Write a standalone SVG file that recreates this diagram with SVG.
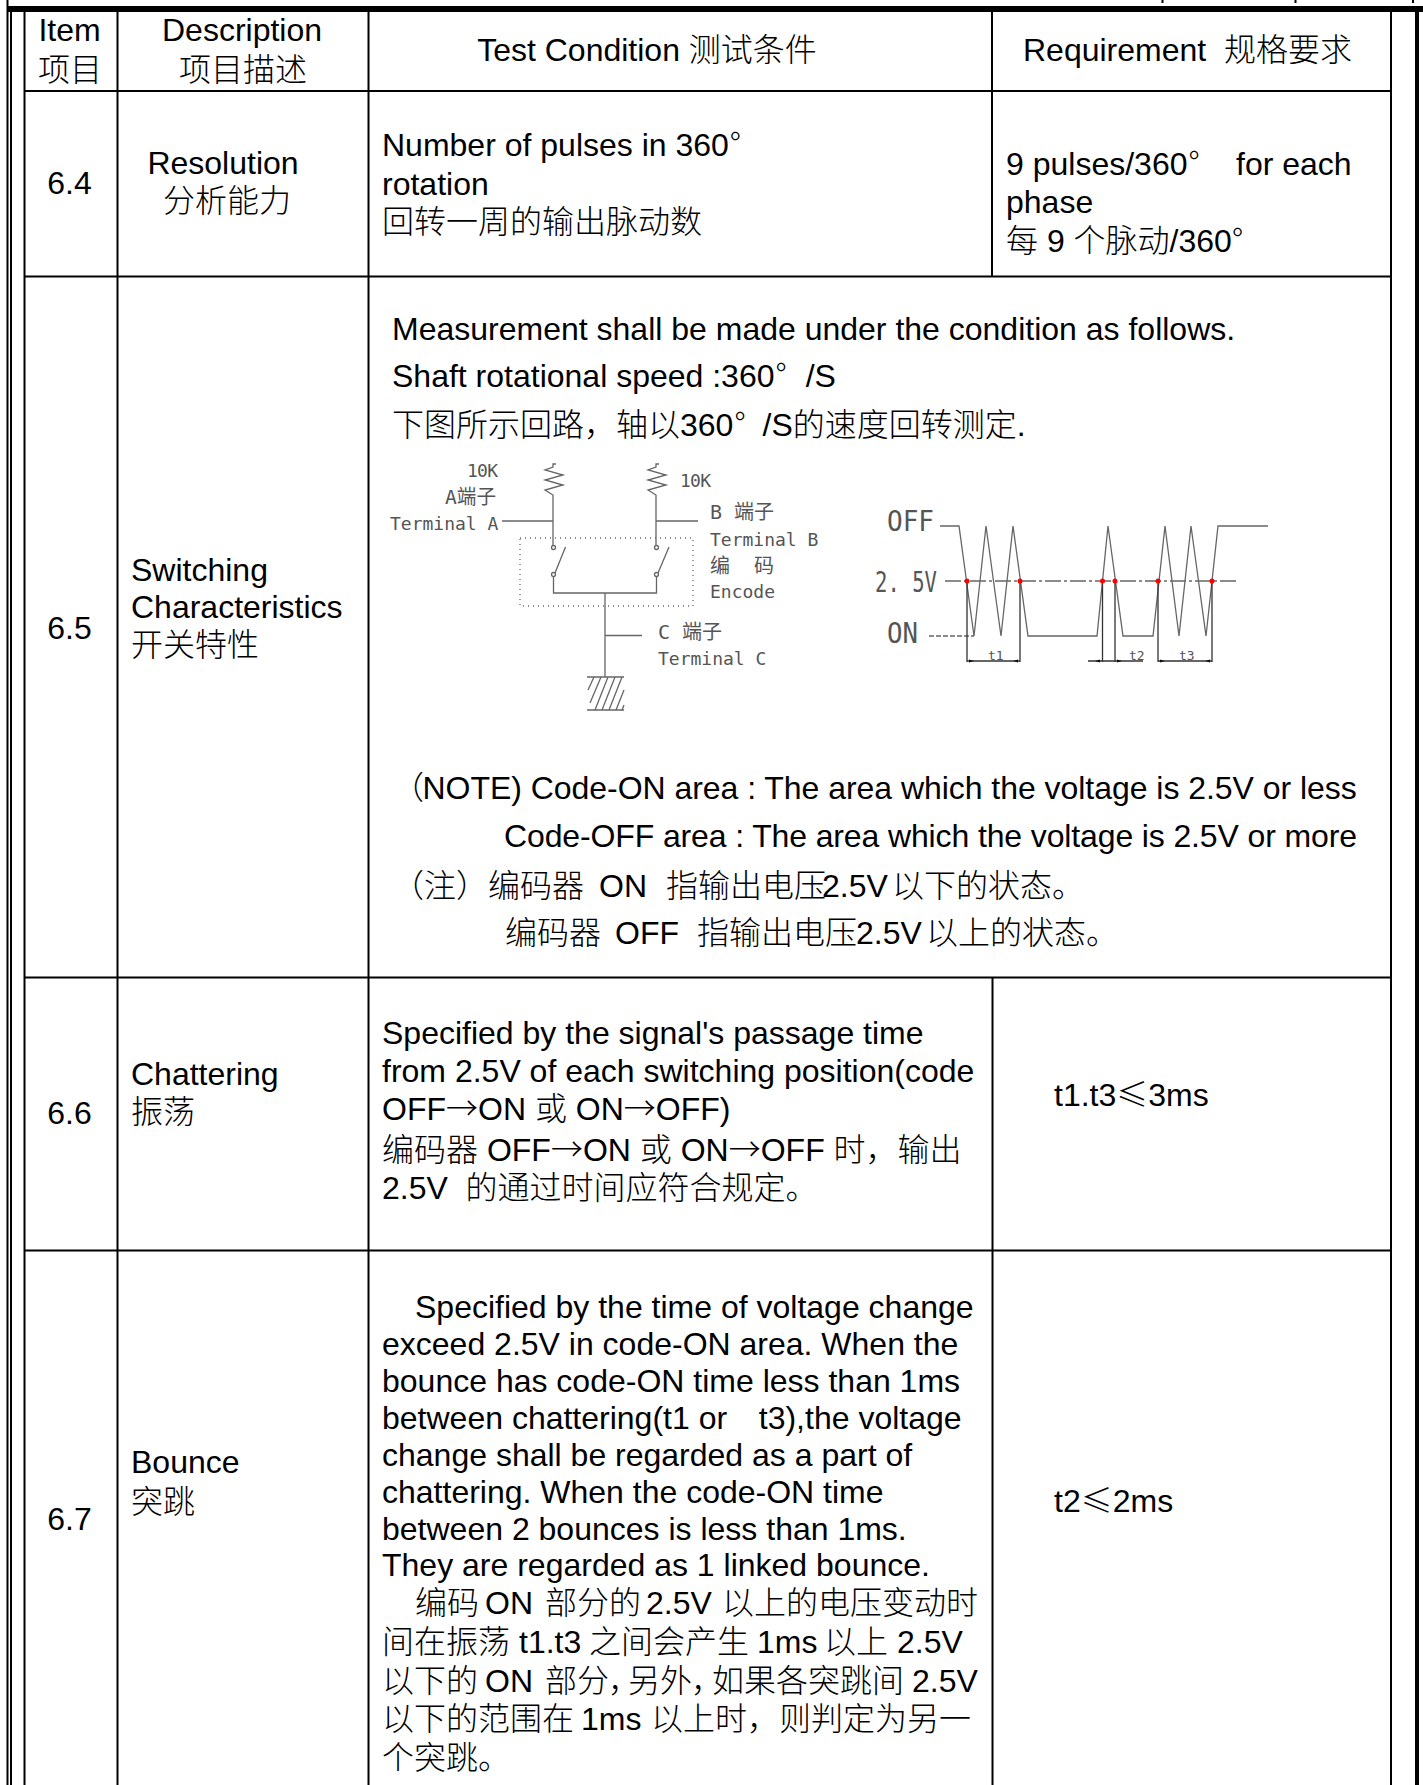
<svg xmlns="http://www.w3.org/2000/svg" width="1423" height="1785" viewBox="0 0 1423 1785">
<style>
text{font-family:"Liberation Sans","Noto Sans CJK SC",sans-serif;font-size:32px;fill:#000;white-space:pre}
.m{text-anchor:middle}
.c{font-family:"Noto Sans CJK SC",sans-serif;font-weight:300}
.g{stroke:#000;fill:none;stroke-width:2}
.d text{font-family:"DejaVu Sans Mono","Noto Sans CJK SC",monospace;font-size:18px;fill:#555}
.d .o{font-size:28px}
.d .z{font-size:20px}
.w{stroke:#666;fill:none;stroke-width:1.3}
.k{stroke:#333;fill:none;stroke-width:1.3}
</style>
<rect width="1423" height="1785" fill="#fff"/>
<g id="grid">
<path class="g" d="M7.500 0V1785M11 9V1785"/>
<path class="g" style="stroke-width:6" d="M7 9H1423"/>
<path class="g" style="stroke-width:4" d="M1417 6V1785"/>
<path class="g" d="M1391 11V1785M24.500 11V1785M117.500 11V1785M368.500 11V1785M992 11V276M992.500 977V1785M24 91H1391M24 276.500H1391M24 977.500H1391M24 1250.500H1391"/>
<path class="g" d="M1162.500 0V3M1295.500 0V3M1413 0V3"/>
</g>
<g id="header">
<text class="m" x="69.500" y="41">Item</text><text class="m c" x="70" y="81">项目</text>
<text class="m" x="242" y="41">Description</text><text class="m c" x="243" y="81">项目描述</text>
<text class="m" x="647" y="61">Test Condition <tspan class="c">测试条件</tspan></text>
<text x="1023" y="61">Requirement  <tspan class="c">规格要求</tspan></text>
</g>
<g id="row-6-4">
<text class="m" x="69.500" y="194">6.4</text>
<text class="m" x="223" y="174">Resolution</text><text class="m c" x="227" y="212">分析能力</text>
<text x="382" y="156">Number of pulses in 360<tspan class="c" dx="1">°</tspan></text><text x="382" y="195">rotation</text><text x="382" y="233" class="c">回转一周的输出脉动数</text>
<text x="1006" y="175">9 pulses/360<tspan class="c" dx="1">°</tspan><tspan x="1236">for each</tspan></text><text x="1006" y="213">phase</text><text x="1006" y="252"><tspan class="c">每</tspan> 9 <tspan class="c">个脉动</tspan>/360<tspan class="c">°</tspan></text>
</g>
<g id="row-6-5">
<text class="m" x="69.500" y="639">6.5</text>
<text x="131" y="581">Switching</text><text x="131" y="618">Characteristics</text><text class="c" x="131" y="656">开关特性</text>
<text x="392" y="340">Measurement shall be made under the condition as follows.</text>
<text x="392" y="387">Shaft rotational speed :360<tspan class="c" dx="1">°</tspan><tspan dx="19">/S</tspan></text>
<text x="392" y="436"><tspan class="c">下图所示回路，轴以</tspan>360<tspan class="c" dx="1">°</tspan><tspan dx="17">/S</tspan><tspan class="c">的速度回转测定</tspan>.</text>
<text x="392" y="799"><tspan class="c">（</tspan><tspan x="422.500" style="letter-spacing:-.04px">NOTE) Code-ON area : The area which the voltage is 2.5V or less</tspan></text>
<text x="504" y="847" textLength="853">Code-OFF area : The area which the voltage is 2.5V or more</text>
<text x="392" y="897"><tspan class="c">（注）编码器</tspan><tspan x="599">ON</tspan><tspan class="c" x="666">指输出电压</tspan><tspan x="822">2.5V</tspan><tspan class="c" x="892">以下的状态。</tspan></text>
<text x="505" y="944"><tspan class="c">编码器</tspan><tspan x="615">OFF</tspan><tspan class="c" x="697">指输出电压</tspan><tspan x="856">2.5V</tspan><tspan class="c" x="926">以上的状态。</tspan></text>
</g>
<g id="row-6-6">
<text class="m" x="69.500" y="1124">6.6</text>
<text x="131" y="1085">Chattering</text><text class="c" x="131" y="1123">振荡</text>
<text x="382" y="1044">Specified by the signal's passage time</text>
<text x="382" y="1082">from 2.5V of each switching position(code</text>
<text x="382" y="1120">OFF<tspan class="c">→</tspan>ON <tspan class="c">或</tspan> ON<tspan class="c">→</tspan>OFF)</text>
<text x="382" y="1161"><tspan class="c">编码器</tspan> OFF<tspan class="c">→</tspan>ON <tspan class="c">或</tspan> ON<tspan class="c">→</tspan>OFF <tspan class="c">时，输出</tspan></text>
<text x="382" y="1199">2.5V  <tspan class="c">的通过时间应符合规定。</tspan></text>
<text x="1054" y="1106">t1.t3<tspan class="c">≤</tspan>3ms</text>
</g>
<g id="row-6-7">
<text class="m" x="69.500" y="1530">6.7</text>
<text x="131" y="1473">Bounce</text><text class="c" x="131" y="1513">突跳</text>
<text x="415" y="1318">Specified by the time of voltage change</text>
<text x="382" y="1355">exceed 2.5V in code-ON area. When the</text>
<text x="382" y="1392">bounce has code-ON time less than 1ms</text>
<text x="382" y="1429">between chattering(t1 or   <tspan dx="5">t3),the voltage</tspan></text>
<text x="382" y="1466">change shall be regarded as a part of</text>
<text x="382" y="1503">chattering. When the code-ON time</text>
<text x="382" y="1540">between 2 bounces is less than 1ms.</text>
<text x="382" y="1576">They are regarded as 1 linked bounce.</text>
<text x="415" y="1614"><tspan class="c">编码</tspan><tspan x="485">ON</tspan><tspan class="c" x="545">部分的</tspan><tspan x="646">2.5V</tspan><tspan class="c" x="722">以上的电压变动时</tspan></text>
<text x="382" y="1653"><tspan class="c">间在振荡</tspan><tspan x="519">t1.t3</tspan><tspan class="c" x="589">之间会产生</tspan><tspan x="757">1ms</tspan><tspan class="c" x="824">以上</tspan><tspan x="897">2.5V</tspan></text>
<text x="382" y="1692"><tspan class="c">以下的</tspan><tspan x="485">ON</tspan><tspan class="c" x="545">部分</tspan><tspan class="c" x="608">，</tspan><tspan class="c" x="628">另外</tspan><tspan class="c" x="691">，</tspan><tspan class="c" x="712">如果各突跳间</tspan><tspan x="912">2.5V</tspan></text>
<text x="382" y="1730"><tspan class="c">以下的范围在</tspan><tspan x="581">1ms</tspan><tspan class="c" x="651">以上时，则判定为另一</tspan></text>
<text x="382" y="1769" class="c">个突跳。</text>
<text x="1054" y="1512">t2<tspan class="c">≤</tspan>2ms</text>
</g>
<g id="circuit" class="d">
<path class="w" d="M556 464H553V467L545 470L563 475L545 480L563 485L545 490L553 495V545M502 521H553M659 464H656V467L648 470L666 475L648 480L666 485L648 490L656 495V545M656 521H698"/>
<circle class="w" cx="553.500" cy="547.500" r="2"/><circle class="w" cx="656.500" cy="547.500" r="2"/><circle class="w" cx="553.500" cy="574.500" r="2"/><circle class="w" cx="656.500" cy="574.500" r="2"/>
<path class="w" d="M555 573L565.500 547M658 573L669 547M553.500 577V593H656.500V577M605 593V677M605 635.500H642M587 677H624M587 710H624"/>
<path class="w" style="stroke-dasharray:1 4" d="M520 538H693V606H520Z"/>
<path class="w" d="M588 690L594 677M590 703L601 677M595 710L608 677M602 710L615 677M609 710L622 677M616 710L624 690M622 710L624 705"/>
<text x="467" y="477" textLength="31">10K</text><text class="z" x="445" y="504" textLength="51" lengthAdjust="spacingAndGlyphs">A端子</text><text x="390" y="530">Terminal A</text>
<text x="680" y="487" textLength="31">10K</text><text class="z" x="710" y="519">B 端子</text><text x="710" y="546">Terminal B</text><text class="z" x="710" y="573">编  码</text><text x="710" y="598">Encode</text>
<text class="z" x="658" y="639">C 端子</text><text x="658" y="665">Terminal C</text>
</g>
<g id="waveform" class="d">
<path class="w" d="M940 526H959L974 636L986 526L1001 636L1013 526L1028 636H1097L1108 526L1123 636H1153L1165 526L1179 636L1191 526L1206 636L1218 526H1268"/>
<path class="w" style="stroke-dasharray:16 3 3 3" d="M945 581H1237"/>
<path class="w" style="stroke-dasharray:5 2" d="M929 636H974"/>
<path class="k" d="M967 581V662M1020 581V662M1102.500 581V662M1115 581V662M1158 581V662M1212 581V662M967 661H1020M1088 661H1143M1158 661H1212"/>
<path fill="#111" d="M969 659.500L974 661L969 662.500ZM1018 659.500L1013 661L1018 662.500ZM1100 659.500L1095 661L1100 662.500ZM1117 659.500L1122 661L1117 662.500ZM1160 659.500L1165 661L1160 662.500ZM1210 659.500L1205 661L1210 662.500Z"/>
<g fill="#f00"><circle cx="967" cy="581" r="2.500"/><circle cx="1020" cy="581" r="2.500"/><circle cx="1102.500" cy="581" r="2.500"/><circle cx="1115" cy="581" r="2.500"/><circle cx="1158" cy="581" r="2.500"/><circle cx="1212" cy="581" r="2.500"/></g>
<text class="o" x="887" y="531" textLength="47" lengthAdjust="spacingAndGlyphs">OFF</text><text class="o" x="875" y="592" textLength="62" lengthAdjust="spacingAndGlyphs">2. 5V</text><text class="o" x="887" y="643" textLength="31" lengthAdjust="spacingAndGlyphs">ON</text>
<text style="font-size:13px" x="988" y="660">t1</text><text style="font-size:13px" x="1129" y="660">t2</text><text style="font-size:13px" x="1179" y="660">t3</text>
</g>
</svg>
